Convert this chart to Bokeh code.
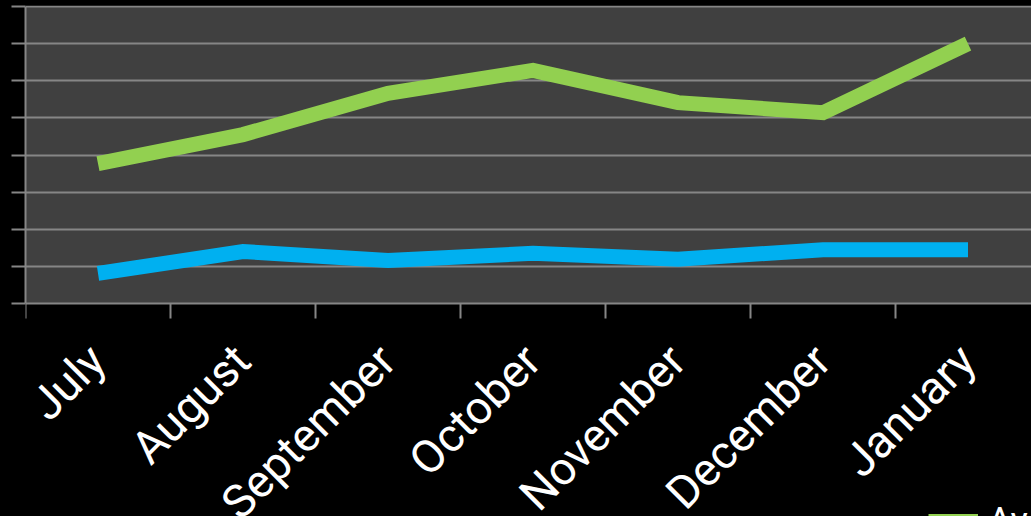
import math
from bokeh.plotting import figure
from bokeh.models import (Range1d, LinearAxis, FixedTicker, Legend, LegendItem, Grid,
                          BoxAnnotation, ColumnDataSource)
from bokeh.core.properties import value
from bokeh.embed import file_html
from bokeh.resources import INLINE

months = ["July", "August", "September", "October", "November", "December", "January"]
green_values = [37.7, 45.5, 56.6, 62.8, 54.1, 51.4, 70.0]
blue_values = [8.1, 14.0, 11.6, 13.5, 11.9, 14.5, 14.5]
y_ticks = [0, 10, 20, 30, 40, 50, 60, 70, 80]
legend_label = "Average"

GRAY = "#868686"
W, H = 1031, 516
LEFT, TOP = 25, 5
CAT_PX = 145                      # pixels per category
PLOT_PX = 297                     # plot-area height in pixels (0..80)
px_per_unit = PLOT_PX / (y_ticks[-1] - y_ticks[0])
y_top = y_ticks[-1] + 1 / px_per_unit
y_bottom = y_top - (H - TOP) / px_per_unit

x_pos = [i + 0.5 for i in range(len(months))]
boundaries = list(range(len(months) + 1))

p = figure(width=W, height=H, output_backend="svg", toolbar_location=None,
           x_range=Range1d(0, (W - LEFT) / CAT_PX), y_range=Range1d(y_bottom, y_top),
           x_axis_location=None, y_axis_location=None,
           min_border_left=LEFT, min_border_right=0, min_border_top=TOP,
           min_border_bottom=0)
p.center = []
p.background_fill_color = "black"
p.border_fill_color = "black"
p.outline_line_color = None
p.styles = {"background-color": "black"}

# plot area
p.add_layout(BoxAnnotation(bottom=y_ticks[0], top=y_ticks[-1], fill_color="#404040",
                           fill_alpha=1, line_color=None, line_alpha=0, level="underlay"))

yaxis = LinearAxis(ticker=FixedTicker(ticks=y_ticks), bounds=(y_ticks[0], y_ticks[-1]),
                   major_label_text_font_size="0px", major_label_standoff=0,
                   major_tick_out=14, major_tick_in=0, minor_tick_out=0, minor_tick_in=0,
                   axis_line_color=GRAY, axis_line_width=2,
                   major_tick_line_color=GRAY, major_tick_line_width=2)
p.add_layout(yaxis, "left")
p.add_layout(Grid(dimension=1, ticker=FixedTicker(ticks=y_ticks),
                  grid_line_color=GRAY, grid_line_width=2, level="underlay"))

# category boundary ticks below the x axis
p.ray(x=boundaries, y=[y_ticks[0]] * len(boundaries), length=15, length_units="screen",
      angle=-math.pi / 2, line_color=GRAY, line_width=2)

# category labels
lab_src = ColumnDataSource(dict(x=x_pos, y=[y_ticks[0]] * len(months), text=months))
p.text(x="x", y="y", text="text", source=lab_src, angle=math.pi / 4,
       text_align="right", text_baseline="top", x_offset=-20, y_offset=30,
       text_color="white", text_font=value("Roboto"), text_font_size=value("46px"))

g = p.line(x_pos, green_values, line_color="#92D050", line_width=15, line_join="miter")
b = p.line(x_pos, blue_values, line_color="#00B0F0", line_width=15, line_join="miter")

legend = Legend(items=[LegendItem(label=legend_label, renderers=[g])],
                location=(903, -29), padding=0, margin=0,
                border_line_color=None, background_fill_alpha=0,
                glyph_width=50, glyph_height=48, label_height=48,
                label_text_color="white", label_text_font="Roboto",
                label_text_font_size="36px", label_standoff=10)
p.add_layout(legend, "center")

open("out.html", "w").write(file_html(p, INLINE))
